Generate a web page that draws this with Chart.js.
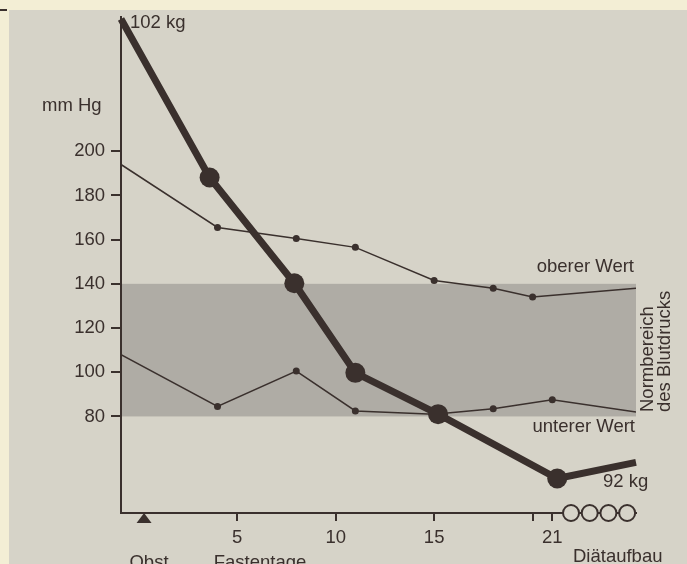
<!DOCTYPE html>
<html>
<head>
<meta charset="utf-8">
<script src="https://cdn.jsdelivr.net/npm/chart.js@4/dist/chart.umd.min.js"></script>
<style>
  html, body { margin: 0; padding: 0; background: #f3eed5; }
  canvas { display: block; }
</style>
</head>
<body>
<canvas id="c" width="687" height="564"></canvas>
<script>
// ---- data ----
const weightDays = [-0.9, 3.6, 7.9, 11.0, 15.2, 21.25, 25.25];
const weightKg   = [102.0, 98.55, 96.25, 94.3, 93.4, 92.0, 92.35];

const sysDays   = [-0.9, 4, 8, 11, 15, 18, 20, 25.25];
const sysValues = [194, 165.5, 160.5, 156.5, 141.5, 138, 134, 138];

const diaDays   = [-0.9, 4, 8, 11, 15, 18, 21, 25.25];
const diaValues = [108, 84.5, 100.5, 82.5, 81, 83.5, 87.5, 82];

const normRange = [80, 140];
const yTicks = [80, 100, 120, 140, 160, 180, 200];
const xTicks = [5, 10, 15, 20, 21];
const xTickLabels = ['5', '10', '15', '', '21'];
const obstDay = 0.27;
const dietDays = [21.95, 22.9, 23.85, 24.8];

// ---- styles ----
const DARK = '#3a302d';
const PAPER = '#d6d3c8';
const BAND = '#afaca5';
const CREAM = '#f3eed5';
const FONT = "'Liberation Sans', Arial, Helvetica, sans-serif";

const pts = (xs, ys) => xs.map((x, i) => ({ x, y: ys[i] }));
const Y_MIN = 36.3, Y_MAX = 260.7;
const W_MIN = 91.25, W_MAX = 102.04;

const decor = {
  id: 'decor',
  beforeDraw(chart) {
    const ctx = chart.ctx;
    ctx.save();
    ctx.fillStyle = CREAM;
    ctx.fillRect(0, 0, chart.width, chart.height);
    ctx.fillStyle = PAPER;
    ctx.fillRect(9, 10, chart.width - 9, chart.height - 10);
    ctx.fillStyle = DARK;
    ctx.fillRect(0, 9, 7, 2);
    ctx.restore();
  },
  beforeDatasetsDraw(chart) {
    const ctx = chart.ctx, a = chart.chartArea, y = chart.scales.y;
    const top = y.getPixelForValue(normRange[1]);
    const bot = y.getPixelForValue(normRange[0]);
    ctx.save();
    ctx.fillStyle = BAND;
    ctx.fillRect(a.left + 1, top, a.right - a.left - 1, bot - top);
    ctx.restore();
  },
  afterDraw(chart) {
    const ctx = chart.ctx, a = chart.chartArea, x = chart.scales.x;
    ctx.save();
    ctx.fillStyle = DARK;
    ctx.font = '18.5px ' + FONT;
    ctx.textBaseline = 'alphabetic';
    ctx.textAlign = 'left';
    ctx.fillText('102 kg', 130, 28);
    ctx.fillText('mm Hg', 42, 111);
    ctx.fillText('92 kg', 603, 487);
    ctx.textAlign = 'right';
    ctx.fillText('oberer Wert', 634, 272);
    ctx.fillText('unterer Wert', 635, 432);
    ctx.textAlign = 'center';
    ctx.fillText('Obst', 149, 568);
    ctx.fillText('Fastentage', 260, 568);
    ctx.textAlign = 'left';
    ctx.fillText('Diätaufbau', 573, 562);
    // rotated label
    ctx.save();
    ctx.translate(648, 412);
    ctx.rotate(-Math.PI / 2);
    ctx.textBaseline = 'middle';
    ctx.fillText('Normbereich', 0, 0);
    ctx.fillText('des Blutdrucks', 0, 17);
    ctx.restore();
    // Obst marker triangle below axis
    const tx = x.getPixelForValue(obstDay);
    ctx.beginPath();
    ctx.moveTo(tx, a.bottom);
    ctx.lineTo(tx + 7.5, a.bottom + 10);
    ctx.lineTo(tx - 7.5, a.bottom + 10);
    ctx.closePath();
    ctx.fill();
    ctx.restore();
  }
};

new Chart(document.getElementById('c'), {
  type: 'line',
  data: {
    datasets: [
      {
        label: 'Gewicht',
        yAxisID: 'y2',
        data: pts(weightDays, weightKg),
        borderColor: DARK, backgroundColor: DARK,
        borderWidth: 7, tension: 0,
        pointRadius: [0, 10, 10, 10, 10, 10, 0],
        pointBorderWidth: 0, pointHoverRadius: 0,
        clip: false
      },
      {
        label: 'oberer Wert',
        yAxisID: 'y',
        data: pts(sysDays, sysValues),
        borderColor: DARK, backgroundColor: DARK,
        borderWidth: 1.5, tension: 0,
        pointRadius: [0, 3.5, 3.5, 3.5, 3.5, 3.5, 3.5, 0],
        pointBorderWidth: 0
      },
      {
        label: 'unterer Wert',
        yAxisID: 'y',
        data: pts(diaDays, diaValues),
        borderColor: DARK, backgroundColor: DARK,
        borderWidth: 1.5, tension: 0,
        pointRadius: [0, 3.5, 3.5, 3.5, 3.5, 3.5, 3.5, 0],
        pointBorderWidth: 0
      },
      {
        label: 'Diätaufbau',
        yAxisID: 'y',
        data: dietDays.map(d => ({ x: d, y: Y_MIN })),
        showLine: false,
        pointRadius: 8,
        pointBackgroundColor: PAPER,
        pointBorderColor: DARK,
        pointBorderWidth: 2,
        clip: false
      }
    ]
  },
  options: {
    responsive: false,
    devicePixelRatio: 1,
    animation: false,
    events: [],
    layout: { padding: { top: 10, right: 51, left: 0, bottom: 0 } },
    plugins: { legend: { display: false }, tooltip: { enabled: false } },
    scales: {
      x: {
        type: 'linear',
        min: -0.9, max: 25.25,
        afterFit: s => { s.height = 51; },
        afterBuildTicks: s => { s.ticks = xTicks.map(v => ({ value: v })); },
        ticks: {
          autoSkip: false, maxRotation: 0, padding: 6,
          color: DARK, font: { family: FONT, size: 18.5 },
          callback: (v) => { const i = xTicks.indexOf(v); return i >= 0 ? xTickLabels[i] : ''; }
        },
        grid: { display: true, drawOnChartArea: false, drawTicks: true, tickLength: 8, color: DARK, lineWidth: 2 },
        border: { display: true, color: DARK, width: 2 }
      },
      y: {
        type: 'linear',
        min: Y_MIN, max: Y_MAX,
        afterFit: s => { s.width = 121; },
        afterBuildTicks: s => { s.ticks = yTicks.map(v => ({ value: v })); },
        ticks: { padding: 6, color: DARK, font: { family: FONT, size: 18.5 } },
        grid: { display: true, drawOnChartArea: false, drawTicks: true, tickLength: 10, color: DARK, lineWidth: 2 },
        border: { display: true, color: DARK, width: 2 }
      },
      y2: {
        type: 'linear', display: false,
        min: W_MIN, max: W_MAX
      }
    }
  },
  plugins: [decor]
});
</script>
</body>
</html>
